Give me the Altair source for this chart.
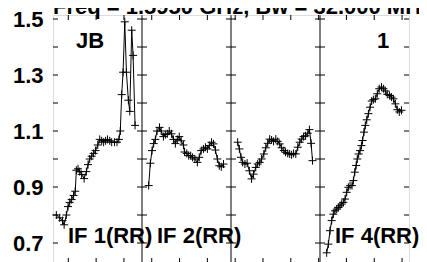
import altair as alt
import pandas as pd

TITLE = "Freq = 1.5950 GHz, Bw = 32.000 MHz"
NCH = 32  # channels per IF panel
X_MIN, X_MAX = -0.5, 127.5
Y_MIN, Y_MAX = 0.6286, 1.5143

ch1 = [0.7, 1.9, 2.9, 3.5, 4.3, 4.9, 5.5, 6.2, 6.9, 7.5, 7.9, 8.5, 9.1, 9.8, 10.7, 11.5, 12.1, 12.7, 13.4, 14.1,
       14.8, 15.6, 16.3, 17.0, 17.7, 18.4, 19.1, 19.9, 20.6, 21.6, 22.5, 23.2, 23.7, 24.2, 24.7, 25.3, 25.9, 26.6,
       27.1, 27.8, 28.3, 29.0]
v1 = [0.80, 0.79, 0.78, 0.765, 0.80, 0.83, 0.845, 0.855, 0.87, 0.885, 0.96, 0.965, 0.955, 0.945, 0.93, 0.955,
      0.98, 1.0, 1.01, 1.02, 1.03, 1.05, 1.07, 1.065, 1.06, 1.065, 1.07, 1.065, 1.06, 1.06, 1.06, 1.07, 1.10,
      1.23, 1.31, 1.49, 1.31, 1.21, 1.17, 1.46, 1.37, 1.12]

ch2 = [1.9, 2.5, 3.1, 3.7, 4.3, 4.9, 5.8, 6.4, 7.2, 7.9, 8.6, 9.3, 10.1, 10.8, 11.5, 12.2, 12.9, 13.6, 14.4, 14.8,
       15.6, 16.3, 17.0, 17.7, 18.5, 19.4, 20.1, 20.8, 21.6, 22.3, 23.0, 23.7, 24.5, 25.2, 25.9, 26.6, 27.3, 28.0,
       28.8]
v2 = [0.905, 0.985, 1.03, 1.055, 1.07, 1.10, 1.113, 1.10, 1.08, 1.087, 1.09, 1.10, 1.09, 1.07, 1.055, 1.07, 1.08,
      1.065, 1.05, 1.025, 1.02, 1.012, 1.012, 1.006, 1.0, 0.988, 1.006, 1.03, 1.036, 1.042, 1.036, 1.048, 1.06,
      1.054, 1.032, 1.0, 0.976, 0.972, 0.982]

ch3 = [1.9, 2.5, 3.1, 3.7, 4.5, 5.3, 6.1, 6.9, 7.6, 8.4, 9.1, 9.8, 10.5, 11.3, 12.0, 12.7, 13.4, 14.1, 14.8, 15.6,
       16.3, 17.0, 17.7, 18.5, 19.1, 19.9, 20.6, 21.3, 22.0, 22.8, 23.5, 24.2, 24.9, 25.6, 26.3, 27.1, 27.7, 28.3,
       28.8]
v3 = [1.06, 1.036, 1.006, 0.988, 0.982, 0.985, 0.958, 0.929, 0.946, 0.97, 0.982, 0.988, 1.0, 1.018, 1.04, 1.056,
      1.071, 1.068, 1.063, 1.071, 1.063, 1.054, 1.04, 1.03, 1.024, 1.02, 1.018, 1.015, 1.02, 1.018, 1.042, 1.06,
      1.071, 1.08, 1.083, 1.092, 1.105, 1.056, 0.994]

ch4 = [1.9, 2.5, 3.1, 3.7, 4.3, 4.9, 5.5, 6.1, 6.7, 7.3, 7.9, 8.5, 9.1, 9.7, 10.3, 11.0, 11.5, 12.0, 12.5, 12.9,
       13.4, 13.9, 14.4, 14.8, 15.3, 15.8, 16.3, 16.9, 17.5, 18.1, 18.7, 19.4, 20.1, 20.8, 21.6, 22.3, 23.0, 23.7,
       24.5, 25.2, 25.9, 26.6, 27.3, 28.0, 28.8]
v4 = [0.665, 0.696, 0.744, 0.78, 0.803, 0.815, 0.821, 0.827, 0.833, 0.839, 0.845, 0.857, 0.881, 0.899, 0.905,
      0.905, 0.923, 0.953, 0.977, 1.0, 1.018, 1.03, 1.048, 1.066, 1.096, 1.12, 1.14, 1.162, 1.185, 1.207, 1.212,
      1.215, 1.233, 1.251, 1.257, 1.251, 1.243, 1.231, 1.227, 1.221, 1.215, 1.197, 1.176, 1.168, 1.174]

y_tick_values = [0.7, 0.8, 0.9, 1.0, 1.1, 1.2, 1.3, 1.4, 1.5]
y_label_values = [0.7, 0.9, 1.1, 1.3, 1.5]
x_tick_values = [5, 15, 25, 35, 45, 55, 65, 75, 85, 95, 105, 115, 125]

panel_labels = [("IF 1(RR)", 0), ("IF 2(RR)", 1), ("IF 4(RR)", 3)]
corner_labels = [("JB", 0, 23), ("1", 3, 57)]

FONT = "Liberation Sans"
FRAME = "#808080"
FS = 22

# ---- tables
rows = []
for p, (cs, vs) in enumerate([(ch1, v1), (ch2, v2), (ch3, v3), (ch4, v4)]):
    for c, v in zip(cs, vs):
        rows.append({"panel": p, "gx": p * NCH + c, "v": v})
data = pd.DataFrame(rows)

edges = [X_MIN + p * NCH for p in range(5)]
borders = pd.DataFrame({"b": edges[1:4]})
ytl = pd.DataFrame([{"b": b, "t": t} for b in edges[:4] for t in y_tick_values])
ytr = pd.DataFrame([{"b": b, "t": t} for b in edges[1:] for t in y_tick_values])
xt = pd.DataFrame({"gx": x_tick_values, "top": Y_MAX, "bot": Y_MIN})
plab = pd.DataFrame([{"txt": t, "b": edges[p]} for t, p in panel_labels])
title_df = pd.DataFrame({"txt": [TITLE], "b": [X_MIN]})

xs = alt.Scale(domain=[X_MIN, X_MAX], nice=False, zero=False)
ys = alt.Scale(domain=[Y_MIN, Y_MAX], nice=False, zero=False)
yaxis = alt.Axis(values=y_label_values, ticks=False, domain=False, grid=False, title=None,
                 labelFont=FONT, labelFontSize=FS, labelFontWeight="bold", labelColor="black",
                 labelPadding=10, format=".1f", labelFlush=False, labelBaseline="middle")


def X(f):
    return alt.X(f, scale=xs, axis=None)


def Y(f):
    return alt.Y(f, scale=ys, axis=yaxis)


border_layer = alt.Chart(borders).mark_rule(color=FRAME, strokeWidth=2).encode(x=X("b:Q"))

ytick_l = alt.Chart(ytl).mark_rule(color="black", strokeWidth=1, x2Offset=5).encode(
    x=X("b:Q"), x2="b:Q", y=Y("t:Q"))
ytick_r = alt.Chart(ytr).mark_rule(color="black", strokeWidth=1, x2Offset=-5).encode(
    x=X("b:Q"), x2="b:Q", y=Y("t:Q"))
xtick_t = alt.Chart(xt).mark_rule(color="black", strokeWidth=1, y2Offset=5).encode(
    x=X("gx:Q"), y=Y("top:Q"), y2="top:Q")
xtick_b = alt.Chart(xt).mark_rule(color="black", strokeWidth=1, y2Offset=-5).encode(
    x=X("gx:Q"), y=Y("bot:Q"), y2="bot:Q")

line = alt.Chart(data).mark_line(color="black", strokeWidth=1).encode(
    x=X("gx:Q"), y=Y("v:Q"), detail="panel:N", order="gx:Q")
pts = alt.Chart(data).mark_point(shape="M-1,0L1,0M0,-1L0,1", size=64, filled=False,
                                 color="black", strokeWidth=1, opacity=1).encode(
    x=X("gx:Q"), y=Y("v:Q"))

plab_layer = alt.Chart(plab).mark_text(font=FONT, fontSize=FS, fontWeight="bold", align="left",
                                       baseline="alphabetic", dx=15, color="black").encode(
    x=X("b:Q"), y=alt.value(228), text="txt:N")

corner_layers = []
for txt, p, off in corner_labels:
    cdf = pd.DataFrame({"txt": [txt], "b": [edges[p]]})
    corner_layers.append(
        alt.Chart(cdf).mark_text(font=FONT, fontSize=FS, fontWeight="bold", align="left",
                                 baseline="alphabetic", dx=off, color="black").encode(
            x=X("b:Q"), y=alt.value(33), text="txt:N"))

title_layer = alt.Chart(title_df).mark_text(font=FONT, fontSize=22, fontWeight="bold", align="left",
                                            baseline="alphabetic", color="black").encode(
    x=X("b:Q"), y=alt.value(-1), text="txt:N")

chart = alt.layer(border_layer, ytick_l, ytick_r, xtick_t, xtick_b, line, pts, plab_layer,
                  *corner_layers, title_layer).properties(
    width=356, height=248,
    autosize=alt.AutoSizeParams(type="none"),
    padding={"left": 45, "top": 7, "right": 10, "bottom": 0},
).configure_view(stroke=FRAME, strokeWidth=2).configure(background="white")

chart.save("out.html", embed_options={"renderer": "svg", "actions": False})
